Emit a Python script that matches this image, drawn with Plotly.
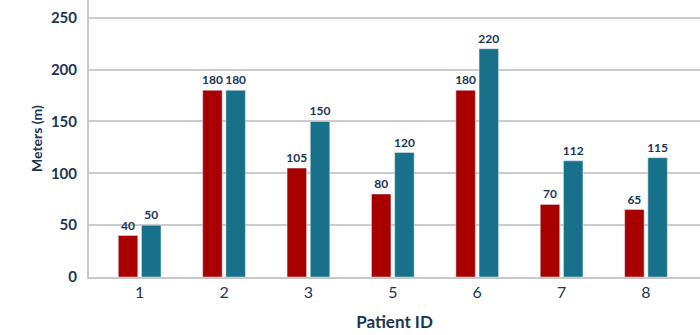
import plotly.graph_objects as go

patients = ["1", "2", "3", "5", "6", "7", "8"]
series_a = [40, 180, 105, 80, 180, 70, 65]
series_b = [50, 180, 150, 120, 220, 112, 115]

navy = "#1b3553"
font_family = "Lato, 'Open Sans', sans-serif"

fig = go.Figure()
fig.add_trace(go.Bar(
    x=patients, y=series_a, marker_color="#a80000",
    text=series_a, textposition="outside", cliponaxis=False, constraintext="none",
    textfont=dict(family=font_family, size=12, color=navy, weight="bold"),
))
fig.add_trace(go.Bar(
    x=patients, y=series_b, marker_color="#17718a",
    text=series_b, textposition="outside", cliponaxis=False, constraintext="none",
    textfont=dict(family=font_family, size=12, color=navy, weight="bold"),
))

fig.update_layout(
    width=700, height=335,
    margin=dict(l=89, r=0, t=0, b=58),
    paper_bgcolor="white", plot_bgcolor="white",
    showlegend=False,
    barmode="group", bargap=0.45, bargroupgap=0.16,
    font=dict(family=font_family, color=navy),
    xaxis=dict(
        type="category", range=[-0.6, 6.64],
        showline=True, linecolor="#c8c8c8", linewidth=2,
        ticks="", tickfont=dict(size=16, color=navy),
        title=dict(text="Patient ID", font=dict(size=17, color=navy, weight="bold"), standoff=16),
    ),
    yaxis=dict(
        range=[0, 267], tickvals=[0, 50, 100, 150, 200, 250],
        showgrid=True, gridcolor="#cccccc", gridwidth=1.5,
        showline=True, linecolor="#c8c8c8", linewidth=2,
        zeroline=False,
        tickfont=dict(size=15, color=navy, weight="bold"),
        ticks="outside", ticklen=7, tickcolor="white",
        title=dict(text="Meters (m)", font=dict(size=14, color=navy, weight="bold"), standoff=5),
    ),
)

fig.write_html("out.html")
